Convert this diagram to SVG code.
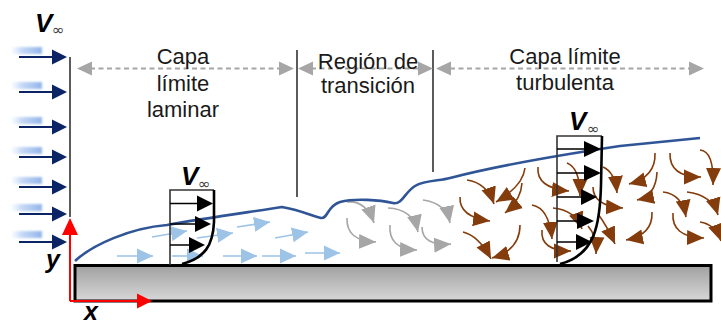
<svg xmlns="http://www.w3.org/2000/svg" width="721" height="324" viewBox="0 0 721 324">
  <style>
    .lbl { font-family: "Liberation Sans", Arial, sans-serif; font-size: 22px; fill: #1a1a1a; text-anchor: middle; }
    .v { font-family: "Liberation Sans", Arial, sans-serif; font-size: 26px; font-weight: bold; font-style: italic; fill: #000; }
    .inf { font-family: "DejaVu Sans", sans-serif; font-size: 15px; fill: #404040; }
    .ax { font-family: "Liberation Sans", Arial, sans-serif; font-size: 25px; font-weight: bold; font-style: italic; fill: #000; }
    .navy { stroke: #0b2466; stroke-width: 2; fill: none; }
    .navyh { fill: #0b2466; }
    .dash { stroke: #a6a6a6; stroke-width: 2; stroke-dasharray: 5 3.5; fill: none; }
    .dashh { fill: #a6a6a6; }
    .div { stroke: #333; stroke-width: 1.6; }
    .lam { stroke: #9dc3e6; stroke-width: 1.6; fill: none; marker-end: url(#hl); }
    .tra { stroke: #a6a6a6; stroke-width: 1.6; fill: none; marker-end: url(#hg); }
    .tur { stroke: #843c0c; stroke-width: 1.6; fill: none; marker-end: url(#hb); }
    .pbox { stroke: #333; stroke-width: 1.6; fill: none; }
    .parr { stroke: #000; stroke-width: 1.4; fill: none; }
    .phead { fill: #000; }
    .pcurve { stroke: #000; stroke-width: 2.6; fill: none; }
  </style>
  <defs>
    <linearGradient id="plateFill" x1="0" y1="0" x2="0" y2="1">
      <stop offset="0" stop-color="#a0a0a0"/>
      <stop offset="1" stop-color="#d8d8d8"/>
    </linearGradient>
    <linearGradient id="glow" x1="0" y1="0" x2="1" y2="0">
      <stop offset="0" stop-color="#dce8fb" stop-opacity="0"/>
      <stop offset="0.35" stop-color="#c8daf6"/>
      <stop offset="1" stop-color="#92b5ea"/>
    </linearGradient>
    <filter id="soft" x="-20%" y="-60%" width="140%" height="220%">
      <feGaussianBlur stdDeviation="0.9"/>
    </filter>
    <marker id="hl" markerUnits="userSpaceOnUse" markerWidth="17" markerHeight="16" refX="16" refY="8" orient="auto">
      <path d="M0,0.5 L16,8 L0,15.5 z" fill="#9dc3e6"/>
    </marker>
    <marker id="hg" markerUnits="userSpaceOnUse" markerWidth="18" markerHeight="16" refX="17" refY="8" orient="auto">
      <path d="M0,0.5 L17,8 L0,15.5 z" fill="#a6a6a6"/>
    </marker>
    <marker id="hb" markerUnits="userSpaceOnUse" markerWidth="18" markerHeight="16" refX="17" refY="8" orient="auto">
      <path d="M0,0.5 L17,8 L0,15.5 z" fill="#843c0c"/>
    </marker>
  </defs>

  <!-- flat plate -->
  <g id="plate">
    <rect x="75" y="265.5" width="636" height="35.5" fill="url(#plateFill)" stroke="#000" stroke-width="3"/>
  </g>

  <!-- free stream velocity arrows -->
  <g id="freestream">
    <g filter="url(#soft)" fill="url(#glow)">
      <rect x="10" y="47" width="32" height="7"/>
      <rect x="10" y="82" width="32" height="7"/>
      <rect x="10" y="117" width="32" height="7"/>
      <rect x="10" y="147" width="32" height="7"/>
      <rect x="10" y="177" width="32" height="7"/>
      <rect x="10" y="204" width="32" height="7"/>
      <rect x="10" y="231" width="32" height="7"/>
    </g>
    <path class="navy" d="M19,57 H55 M19,92 H55 M19,127 H55 M19,157 H55 M19,187 H55 M19,214 H55 M19,242 H55"/>
    <path class="navyh" d="M52,49.5 L67,57 L52,64.5 z M52,84.5 L67,92 L52,99.5 z M52,119.5 L67,127 L52,134.5 z M52,149.5 L67,157 L52,164.5 z M52,179.5 L67,187 L52,194.5 z M52,206.5 L67,214 L52,221.5 z M52,234.5 L67,242 L52,249.5 z"/>
    <text class="v" x="35" y="32">V</text>
    <text class="inf" x="52" y="35">∞</text>
  </g>

  <!-- region dividers -->
  <g id="dividers">
    <line class="div" x1="70" y1="57" x2="70" y2="217"/>
    <line class="div" x1="297" y1="50" x2="297" y2="197"/>
    <line class="div" x1="433" y1="50" x2="433" y2="172"/>
  </g>

  <!-- dashed extent arrows -->
  <g id="extents">
    <path class="dash" d="M90,68.5 H281 M311,68.5 H420 M450,68.5 H690"/>
    <path class="dashh" d="M77,68.5 L92,61.5 L92,75.5 z M294,68.5 L279,61.5 L279,75.5 z M298,68.5 L313,61.5 L313,75.5 z M433,68.5 L418,61.5 L418,75.5 z M436,68.5 L451,61.5 L451,75.5 z M704,68.5 L689,61.5 L689,75.5 z"/>
  </g>

  <!-- region labels -->
  <g id="labels">
    <text class="lbl" x="183" y="64">Capa</text>
    <text class="lbl" x="183" y="91">límite</text>
    <text class="lbl" x="183" y="117">laminar</text>
    <text class="lbl" x="368" y="69">Región de</text>
    <text class="lbl" x="368" y="93">transición</text>
    <text class="lbl" x="565" y="64">Capa límite</text>
    <text class="lbl" x="565" y="90">turbulenta</text>
  </g>

  <!-- laminar streamlines -->
  <g id="laminar-flow">
    <path class="lam" d="M117,256 H153"/>
    <path class="lam" d="M172,256 H203"/>
    <path class="lam" d="M223,256 H257"/>
    <path class="lam" d="M262,256 H296"/>
    <path class="lam" d="M305,253 H340"/>
    <path class="lam" d="M152,237 L187,231"/>
    <path class="lam" d="M197,238 L233,233"/>
    <path class="lam" d="M237,227 L270,222"/>
    <path class="lam" d="M275,238 L308,232"/>
  </g>

  <!-- transition eddies -->
  <g id="transition-flow">
    <path class="tra" d="M347,202 Q366,200 374,223"/>
    <path class="tra" d="M347,218 Q346,241 376,242"/>
    <path class="tra" d="M388,208 Q413,209 418,232"/>
    <path class="tra" d="M390,225 Q388,249 417,250"/>
    <path class="tra" d="M423,200 Q446,203 450,223"/>
    <path class="tra" d="M422,227 Q422,246 451,244"/>
  </g>

  <!-- turbulent eddies -->
  <g id="turbulent-flow">
    <path class="tur" d="M467,180 Q487,183 494,204"/>
    <path class="tur" d="M525,168 Q523,186 496,202"/>
    <path class="tur" d="M460,197 Q459,217 490,221"/>
    <path class="tur" d="M522,183 Q521,200 505,213"/>
    <path class="tur" d="M463,232 Q479,236 491,259"/>
    <path class="tur" d="M520,225 Q520,250 492,258"/>
    <path class="tur" d="M538,167 Q536,188 569,191"/>
    <path class="tur" d="M532,205 Q549,208 552,239"/>
    <path class="tur" d="M542,230 Q540,251 571,251"/>
    <path class="tur" d="M567,163 Q580,168 580,196"/>
    <path class="tur" d="M553,208 Q575,210 582,229"/>
    <path class="tur" d="M588,226 Q597,236 596,254"/>
    <path class="tur" d="M603,167 Q615,172 617,193"/>
    <path class="tur" d="M655,153 Q656,177 629,184"/>
    <path class="tur" d="M670,153 Q669,177 701,177"/>
    <path class="tur" d="M700,150 Q714,151 713,185"/>
    <path class="tur" d="M657,172 Q656,196 637,200"/>
    <path class="tur" d="M593,187 Q593,206 623,208"/>
    <path class="tur" d="M663,192 Q682,194 686,217"/>
    <path class="tur" d="M687,192 Q712,195 718,215"/>
    <path class="tur" d="M652,212 Q653,235 626,240"/>
    <path class="tur" d="M598,214 Q607,226 615,244"/>
    <path class="tur" d="M673,213 Q671,237 704,238"/>
    <path class="tur" d="M700,222 Q715,224 721,241"/>
  </g>

  <!-- boundary layer edge -->
  <g id="boundary-layer">
    <path d="M75,261 C92,245 130,228 167,225 C200,219 250,212 282,207 C300,210 312,216 321,218 C328,219 327,206 340,202 C355,198 380,200 393,203 C402,205 405,192 415,186 C425,180 440,181 450,178 C500,165 560,155 620,146 L700,138" fill="none" stroke="#2f5597" stroke-width="2.6"/>
  </g>

  <!-- laminar velocity profile -->
  <g id="laminar-profile">
    <path class="pbox" d="M214,190 H170 V265"/>
    <path class="parr" d="M170,203.5 H200 M170,224 H198 M170,245 H192"/>
    <path class="phead" d="M197,195.5 L213,203.5 L197,211.5 z M195,216 L211,224 L195,232 z M189,237 L205,245 L189,253 z"/>
    <path class="pcurve" d="M214,190 L214,222 C213,245 205,258 182,264"/>
    <text class="v" x="181" y="185">V</text>
    <text class="inf" x="198" y="189">∞</text>
  </g>

  <!-- turbulent velocity profile -->
  <g id="turbulent-profile">
    <path class="pbox" d="M602,136 H557 V262"/>
    <path class="parr" d="M557,149 H587 M557,173 H587 M557,197 H584 M557,221 H580 M557,242 H579"/>
    <path class="phead" d="M584,141 L601,149 L584,157 z M584,165 L601,173 L584,181 z M581,189 L597,197 L581,205 z M577,213 L594,221 L577,229 z M576,234 L592,242 L576,250 z"/>
    <path class="pcurve" d="M602,136 L601,185 C600,225 595,255 560,264"/>
    <text class="v" x="569" y="130">V</text>
    <text class="inf" x="587" y="134">∞</text>
  </g>

  <!-- coordinate axes -->
  <g id="axes">
    <path d="M70,301 V233 M70,301 H139" fill="none" stroke="#ff0000" stroke-width="2"/>
    <path d="M62,235 L70,218 L78,235 z M137,293.5 L152,301 L137,308.5 z" fill="#ff0000"/>
    <text class="ax" x="46" y="268">y</text>
    <text class="ax" x="84" y="320">x</text>
  </g>
</svg>
